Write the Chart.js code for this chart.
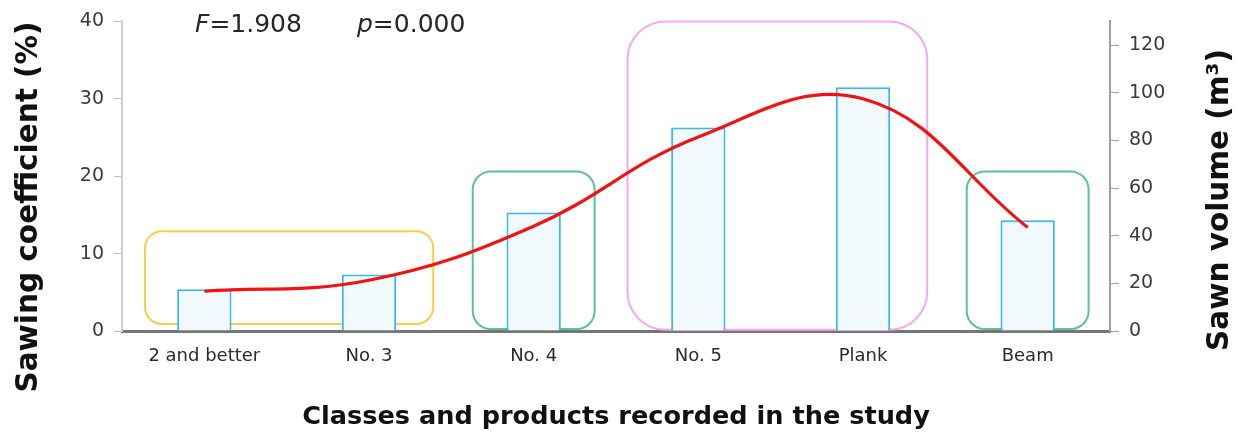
<!DOCTYPE html>
<html>
<head>
<meta charset="utf-8">
<script src="https://cdn.jsdelivr.net/npm/chart.js@4/dist/chart.umd.min.js"></script>
<style>
  html, body { margin: 0; padding: 0; background: #fff; }
  #wrap { width: 1239px; height: 434px; position: relative; }
</style>
</head>
<body>
<div id="wrap"><canvas id="chart"></canvas></div>
<script>
// data
const categories = ['2 and better', 'No. 3', 'No. 4', 'No. 5', 'Plank', 'Beam'];
const sawingCoefficient = [5.4, 7.3, 15.3, 26.3, 31.5, 14.3];   // %, left axis (bars)
const sawnVolume = [16.7, 21.3, 44, 81.5, 97.5, 43.5];           // m3, right axis (line)
const leftTicks = [0, 10, 20, 30, 40];
const rightTicks = [0, 20, 40, 60, 80, 100, 120];

// grouping frames: category range, value range on left axis
const groups = [
    { from: 0, to: 1, padL: 0.36, padR: 0.39, low: 0.9, high: 12.9, color: '#FFCB45', radius: 17 },
    { from: 2, to: 2, padL: 0.37, padR: 0.37, low: 0.25, high: 20.6, color: '#5CC48A', radius: 18 },
    { from: 3, to: 4, padL: 0.43, padR: 0.39, low: 0.15, high: 40, color: '#F6A8F0', radius: 38 },
    { from: 5, to: 5, padL: 0.37, padR: 0.37, low: 0.25, high: 20.6, color: '#5CC48A', radius: 18 }
];

const FONT = 'DejaVu Sans';

const framesPlugin = {
    id: 'frames',
    beforeDatasetsDraw(chart) {
        const ctx = chart.ctx;
        const x = chart.scales.x;
        const y = chart.scales.y;
        const step = x.getPixelForValue(1) - x.getPixelForValue(0);
        ctx.save();
        groups.forEach(g => {
            const x0 = x.getPixelForValue(g.from) - g.padL * step;
            const x1 = x.getPixelForValue(g.to) + g.padR * step;
            const y0 = y.getPixelForValue(g.high);
            const y1 = y.getPixelForValue(g.low);
            ctx.beginPath();
            ctx.roundRect(x0, y0, x1 - x0, y1 - y0, g.radius);
            ctx.strokeStyle = g.color;
            ctx.lineWidth = 2;
            ctx.stroke();
        });
        ctx.restore();
    }
};

const textPlugin = {
    id: 'texts',
    afterDraw(chart) {
        const ctx = chart.ctx;
        ctx.save();
        ctx.fillStyle = '#262626';
        ctx.textBaseline = 'alphabetic';
        ctx.textAlign = 'left';
        // statistics
        ctx.font = 'italic 25px ' + FONT;
        ctx.fillText('F', 195, 32);
        let w = ctx.measureText('F').width;
        ctx.font = '25px ' + FONT;
        ctx.fillText('=1.908', 195 + w, 32);
        ctx.font = 'italic 25px ' + FONT;
        ctx.fillText('p', 357, 32);
        w = ctx.measureText('p').width;
        ctx.font = '25px ' + FONT;
        ctx.fillText('=0.000', 357 + w, 32);

        // axis titles
        ctx.fillStyle = '#111';
        ctx.textAlign = 'center';
        ctx.font = 'bold 29.5px ' + FONT;
        ctx.save();
        ctx.translate(37, 207);
        ctx.rotate(-Math.PI / 2);
        ctx.fillText('Sawing coefficient (%)', 0, 0);
        ctx.restore();
        ctx.save();
        ctx.translate(1228, 200);
        ctx.rotate(-Math.PI / 2);
        ctx.fillText('Sawn volume (m\u00B3)', 0, 0);
        ctx.restore();
        ctx.font = 'bold 25.6px ' + FONT;
        ctx.fillText('Classes and products recorded in the study', 616, 424);
        ctx.restore();
    }
};

new Chart(document.getElementById('chart'), {
    data: {
        labels: categories,
        datasets: [
            {
                type: 'line',
                label: 'Sawn volume',
                data: sawnVolume,
                yAxisID: 'y2',
                borderColor: '#F21212',
                borderWidth: 3.2,
                pointRadius: 0,
                tension: 0.4,
                order: 1
            },
            {
                type: 'bar',
                label: 'Sawing coefficient',
                data: sawingCoefficient,
                yAxisID: 'y',
                backgroundColor: '#F1F9FD',
                borderColor: '#35B9EE',
                borderWidth: 2,
                barPercentage: 0.33,
                categoryPercentage: 1,
                order: 2
            }
        ]
    },
    options: {
        responsive: true,
        maintainAspectRatio: false,
        animation: false,
        layout: { padding: { top: 20, left: 0, right: 0, bottom: 0 } },
        plugins: {
            legend: { display: false },
            tooltip: { enabled: false }
        },
        scales: {
            x: {
                grid: { display: false, drawTicks: false },
                border: { display: true, color: '#767676', width: 3 },
                ticks: {
                    color: '#2b2b2b',
                    font: { family: FONT, size: 18 },
                    padding: 15,
                    maxRotation: 0
                },
                afterFit(scale) { scale.height = 103; }
            },
            y: {
                position: 'left',
                min: 0,
                max: 40,
                grid: { drawOnChartArea: false, tickLength: 8, color: '#bdbdbd' },
                border: { color: '#cfcfcf', width: 2 },
                ticks: {
                    stepSize: 10,
                    color: '#3a3a3a',
                    font: { family: FONT, size: 19 },
                    padding: 10
                },
                afterBuildTicks(scale) {
                    scale.ticks = leftTicks.map(v => ({ value: v }));
                },
                afterFit(scale) { scale.width = 122; }
            },
            y2: {
                position: 'right',
                min: 0,
                max: 130,
                grid: { drawOnChartArea: false, tickLength: 9, color: '#a0a0a0' },
                border: { color: '#a0a0a0', width: 2 },
                ticks: {
                    stepSize: 20,
                    color: '#3a3a3a',
                    font: { family: FONT, size: 19 },
                    padding: 10
                },
                afterBuildTicks(scale) {
                    scale.ticks = rightTicks.map(v => ({ value: v }));
                },
                afterFit(scale) { scale.width = 129; }
            }
        }
    },
    plugins: [framesPlugin, textPlugin]
});
</script>
</body>
</html>
